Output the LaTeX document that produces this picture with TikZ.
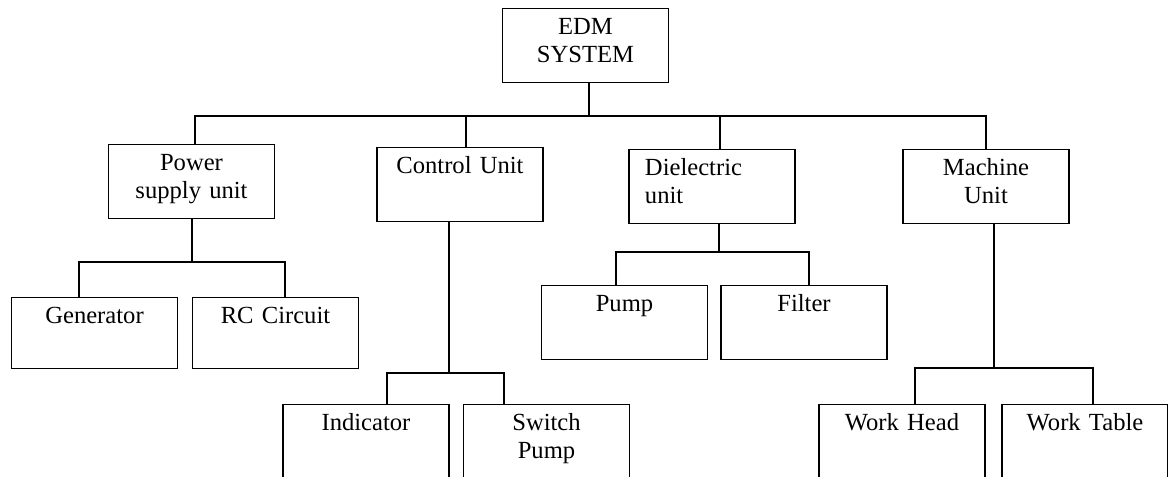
\documentclass[tikz,border=0pt]{standalone}
\usepackage{fontspec}
\setmainfont{Liberation Serif}
\newcommand{\fork}[6]{\draw (#1.south -| #2) -- (#2); \draw (#5.north -| #3) -- (#3) -- (#4) -- (#6.north -| #4);}

\begin{document}
\begin{tikzpicture}[x=0.025cm, y=-0.025cm, line width=0.8pt,
  unit/.style={draw, anchor=north, text width=4.15cm, inner xsep=0pt, inner ysep=0pt,
    text height=0.65cm, text depth=1.2cm, align=center, font=\fontsize{17.5}{20}\selectfont},
  low/.style={unit, text depth=1.125cm},
  cut/.style={unit, text depth=2.5cm}]
\useasboundingbox (0,0) rectangle (1168,477);
\node[unit] (sys) at (585.5,8) {EDM\\SYSTEM};
\node[unit] (psu) at (191.5,144) {Power\\supply unit};
\node[unit] (ctrl) at (460,147) {Control Unit};
\node[unit, align=left, text width=3.35cm, inner xsep=0.4cm] (diel) at (712,149) {Dielectric\\unit};
\node[unit] (mach) at (986,149) {Machine\\Unit};
\node[low] (gen) at (94.5,297) {Generator};
\node[low] (rc) at (275.5,297) {RC Circuit};
\node[unit] (pump) at (624.5,285) {Pump};
\node[unit] (filt) at (804,285) {Filter};
\node[cut] (ind) at (366,404) {Indicator};
\node[cut] (sw) at (546.5,404) {Switch\\Pump};
\node[cut] (wh) at (902,404) {Work Head};
\node[cut] (wt) at (1085,404) {Work Table};
\coordinate (b0) at (589,116);
\coordinate (b1) at (195,116);
\coordinate (b2) at (466,116);
\coordinate (b3) at (720,116);
\coordinate (b4) at (986,116);
\draw (sys.south -| b0) -- (b0);
\draw (psu.north -| b1) -- (b1) -- (b4) -- (mach.north -| b4);
\draw (ctrl.north -| b2) -- (b2);
\draw (diel.north -| b3) -- (b3);
\coordinate (pj) at (192,262); \coordinate (pa) at (79,262); \coordinate (pb) at (285,262);
\coordinate (cj) at (449,373); \coordinate (ca) at (387,373); \coordinate (cb) at (504,373);
\coordinate (dj) at (719,252); \coordinate (da) at (616,252); \coordinate (db) at (809,252);
\coordinate (mj) at (994,368); \coordinate (ma) at (915,368); \coordinate (mb) at (1093,368);
\fork{psu}{pj}{pa}{pb}{gen}{rc}
\fork{ctrl}{cj}{ca}{cb}{ind}{sw}
\fork{diel}{dj}{da}{db}{pump}{filt}
\fork{mach}{mj}{ma}{mb}{wh}{wt}
\end{tikzpicture}
\end{document}
